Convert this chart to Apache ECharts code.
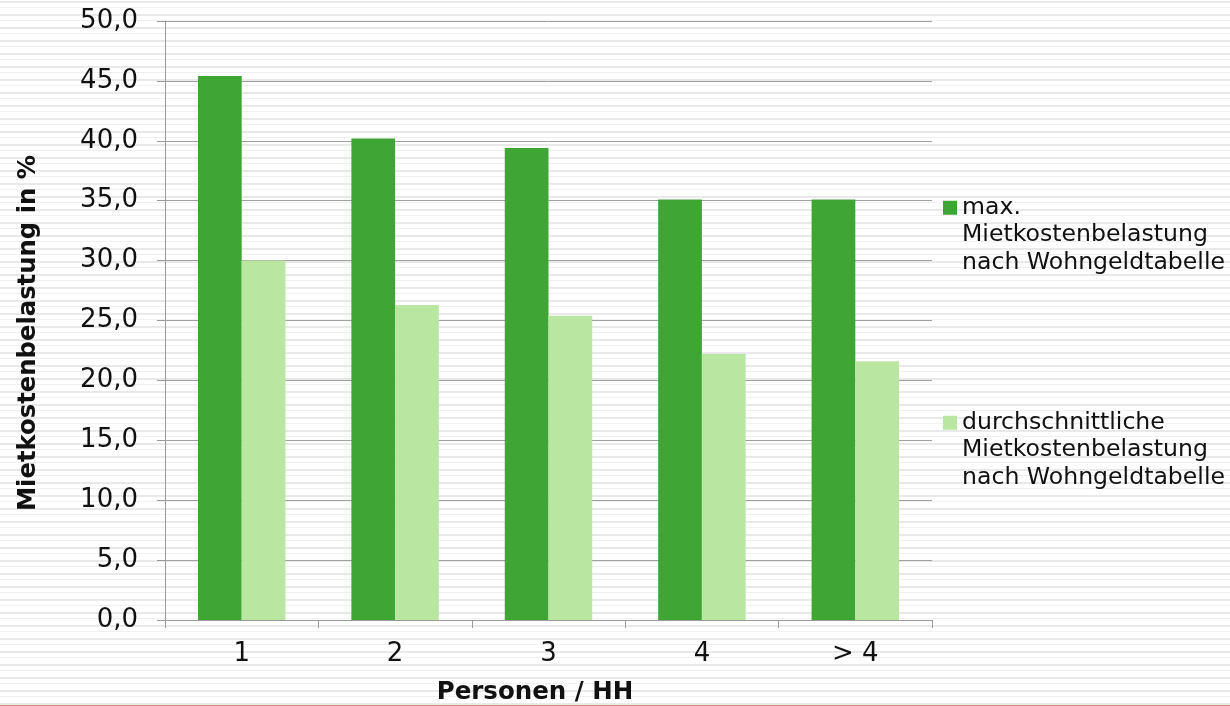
<!DOCTYPE html>
<html>
<head>
<meta charset="utf-8">
<script src="https://cdn.jsdelivr.net/npm/echarts@6/dist/echarts.min.js"></script>
<style>
  html, body { margin: 0; padding: 0; }
  body {
    width: 1230px; height: 706px; overflow: hidden; position: relative;
    /* light horizontal line pattern behind the whole chart */
    background: repeating-linear-gradient(to bottom,
      #ffffff 0px, #ffffff 1px,
      #e9e9e9 1px, #e9e9e9 3px,
      #ffffff 3px, #ffffff 7px,
      #f0f0f0 7px, #f0f0f0 8px,
      #ffffff 8px, #ffffff 13px);
  }
  #chart { width: 1230px; height: 706px; }
  #edge { position: absolute; left: 0; right: 0; bottom: 0; height: 1px; background: #e0917c; }
</style>
</head>
<body>
<div id="chart"></div>
<div id="edge"></div>
<script>
// Household size categories
const categories = ['1', '2', '3', '4', '> 4'];
// Maximum rent burden per the housing benefit table (%)
const maxBelastung = [45.4, 40.2, 39.4, 35.1, 35.1];
// Average rent burden per the housing benefit table (%)
const avgBelastung = [30.0, 26.3, 25.4, 22.2, 21.6];

const seriesNames = [
  'max.\nMietkostenbelastung\nnach Wohngeldtabelle',
  'durchschnittliche\nMietkostenbelastung\nnach Wohngeldtabelle'
];
const xTitle = 'Personen / HH';
const yTitle = 'Mietkostenbelastung in %';

const FONT = 'DejaVu Sans, Verdana, sans-serif';
const DARK = '#3fa535';
const LIGHT = '#b9e6a0';
const LINE_H = 27.5;

// Each legend entry: the key square sits beside the first text line,
// so two blank lines are put in front to keep the centred block aligned.
function legendFor(name, top) {
  return {
    data: [name],
    orient: 'vertical',
    left: 943,
    top: top,
    padding: 0,
    icon: 'rect',
    itemWidth: 14,
    itemHeight: 14,
    itemGap: 6,
    selectedMode: false,
    formatter: n => '\n\n' + n,
    textStyle: {
      fontFamily: FONT,
      fontSize: 23.6,
      color: '#111',
      lineHeight: LINE_H
    }
  };
}

const chart = echarts.init(document.getElementById('chart'), null, { renderer: 'canvas' });
chart.setOption({
  backgroundColor: 'transparent',
  animation: false,
  grid: { left: 165, right: 298, top: 21, bottom: 86, containLabel: false, outerBoundsMode: 'none' },
  legend: [legendFor(seriesNames[0], 139), legendFor(seriesNames[1], 354)],
  xAxis: {
    type: 'category',
    data: categories,
    name: xTitle,
    nameLocation: 'middle',
    nameGap: 60,
    nameTextStyle: { fontFamily: FONT, fontSize: 24.5, fontWeight: 'bold', color: '#111', padding: [0, 27, 0, 0] },
    axisLine: { lineStyle: { color: '#9a9a9a', width: 1 } },
    axisTick: { show: true, length: 8, lineStyle: { color: '#9a9a9a' } },
    axisLabel: { fontFamily: FONT, fontSize: 26, color: '#111', margin: 21 }
  },
  yAxis: {
    type: 'value',
    min: 0,
    max: 50,
    interval: 5,
    name: yTitle,
    nameLocation: 'middle',
    nameGap: 124,
    nameRotate: 90,
    nameTextStyle: { fontFamily: FONT, fontSize: 24.3, fontWeight: 'bold', color: '#111', padding: [0, 25, 0, 0] },
    axisLine: { show: true, lineStyle: { color: '#9a9a9a', width: 1 } },
    axisTick: { show: true, length: 8, lineStyle: { color: '#9a9a9a' } },
    splitLine: { lineStyle: { color: '#a0a0a0', width: 1 } },
    axisLabel: {
      fontFamily: FONT, fontSize: 26, color: '#111', margin: 27,
      formatter: v => v.toFixed(1).replace('.', ',')
    }
  },
  series: [
    {
      name: seriesNames[0],
      type: 'bar',
      data: maxBelastung,
      itemStyle: { color: DARK },
      barGap: '0%',
      barCategoryGap: '43%'
    },
    {
      name: seriesNames[1],
      type: 'bar',
      data: avgBelastung,
      itemStyle: { color: LIGHT },
      barGap: '0%',
      barCategoryGap: '43%'
    }
  ]
});
</script>
</body>
</html>
